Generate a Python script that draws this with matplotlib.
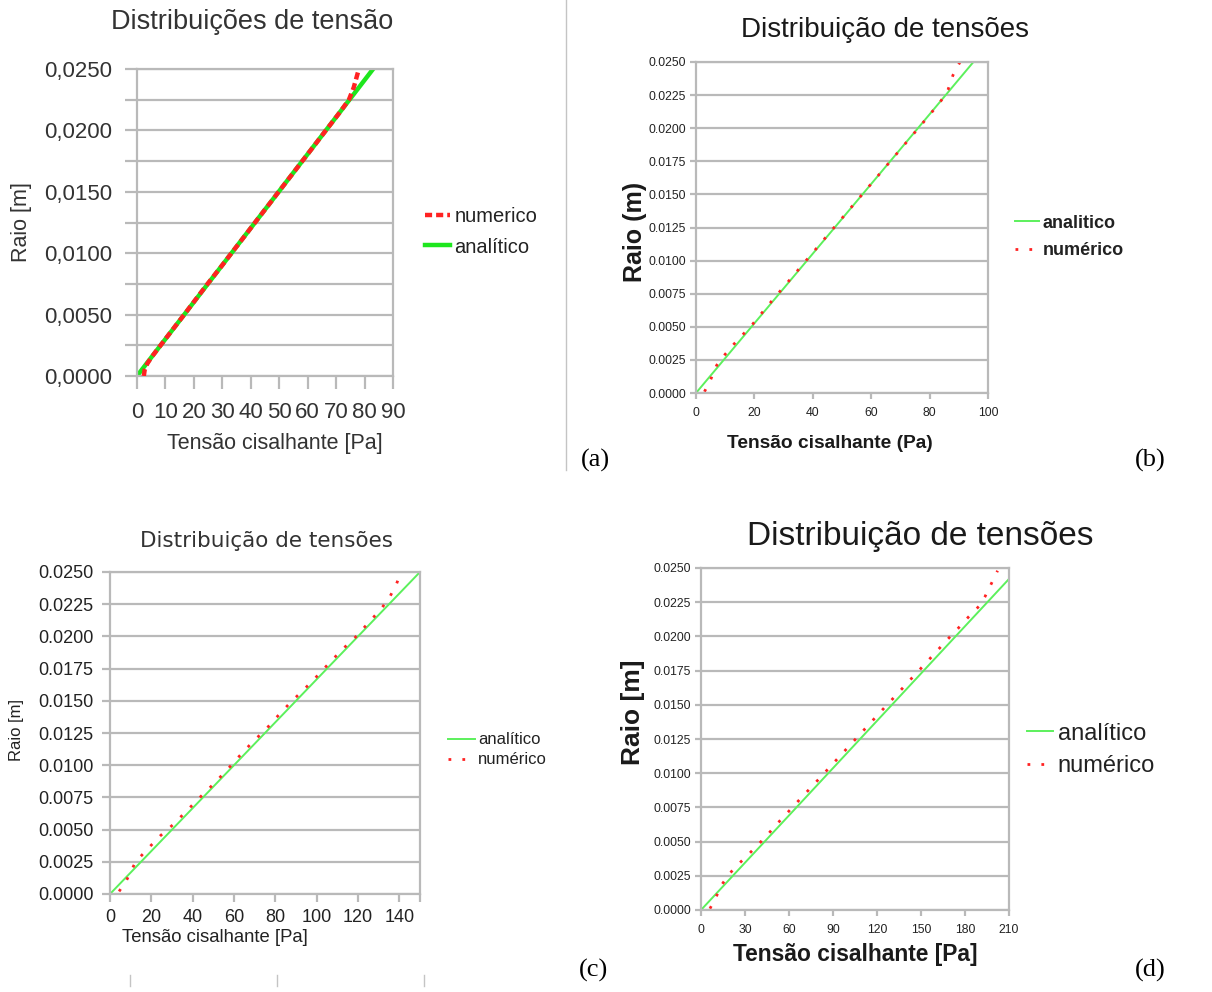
import matplotlib
matplotlib.use("Agg")
import matplotlib.pyplot as plt
from matplotlib.lines import Line2D
from matplotlib.ticker import FixedLocator, FuncFormatter, MultipleLocator

W, H = 1212, 992

# ------------------------------------------ #
# data: shear stress [Pa] against radius [m] #
# ------------------------------------------ #

# (a) Distribuições de tensão
r_ana_a = [0.0, 0.025]
tau_ana_a = [0.0, 83.0]
r_num_a = [0.0000, 0.0005, 0.0010, 0.0015, 0.0025, 0.0035, 0.0050, 0.0065,
           0.0075, 0.0090, 0.0100, 0.0115, 0.0125, 0.0140, 0.0150, 0.0165,
           0.0175, 0.0190, 0.0200, 0.0215, 0.0225, 0.0235, 0.0245, 0.0250]
tau_num_a = [2.4, 2.7, 3.6, 5.0, 8.3, 11.6, 16.6, 21.5,
             24.8, 29.9, 33.2, 38.2, 41.5, 46.5, 49.8, 54.8,
             58.1, 63.1, 66.4, 71.4, 74.5, 76.2, 77.4, 78.0]

# (b) Distribuição de tensões
r_ana_b = [0.0, 0.025]
tau_ana_b = [0.0, 95.0]
r_num_b = [0.0001, 0.0009, 0.0021, 0.0029, 0.0036, 0.0044, 0.0052, 0.0067,
           0.0080, 0.0093, 0.0106, 0.0119, 0.0132, 0.0145, 0.0158, 0.0171,
           0.0184, 0.0197, 0.0210, 0.0221, 0.0229, 0.0240, 0.0250]
tau_num_b = [2.9, 4.8, 7.1, 9.9, 12.6, 16.0, 19.4, 25.0,
             30.0, 35.0, 40.0, 45.0, 50.0, 55.0, 60.0, 65.0,
             70.0, 75.0, 80.0, 84.0, 86.3, 88.0, 90.4]

# (c) Distribuição de tensões
r_ana_c = [0.0, 0.025]
tau_ana_c = [0.0, 150.0]
r_num_c = [0.0002, 0.0011, 0.0025, 0.0036, 0.0045, 0.0054, 0.0066, 0.0075,
           0.0086, 0.0097, 0.0106, 0.0118, 0.0128, 0.0137, 0.0149, 0.0159,
           0.0168, 0.0180, 0.0190, 0.0199, 0.0209, 0.0222, 0.0231, 0.0241,
           0.0248]
tau_num_c = [4.4, 8.1, 12.4, 18.8, 24.2, 30.6, 38.0, 43.5,
             50.5, 57.0, 62.0, 69.0, 75.5, 80.5, 87.5, 94.0,
             99.5, 106.5, 112.5, 118.5, 124.2, 131.5, 135.5, 138.7,
             140.3]

# (d) Distribuição de tensões
r_ana_d = [0.0, 0.0242]
tau_ana_d = [0.0, 210.0]
r_num_d = [0.0001, 0.0009, 0.0019, 0.0027, 0.0033, 0.0040, 0.0048, 0.0054,
           0.0062, 0.0070, 0.0077, 0.0085, 0.0093, 0.0100, 0.0107, 0.0114,
           0.0121, 0.0128, 0.0135, 0.0142, 0.0149, 0.0157, 0.0164, 0.0171,
           0.0179, 0.0186, 0.0193, 0.0200, 0.0206, 0.0214, 0.0222, 0.0229,
           0.0238, 0.0248]
tau_num_d = [6.1, 10.0, 14.5, 19.8, 25.0, 31.8, 39.1, 44.6,
             51.0, 58.0, 64.0, 71.0, 78.0, 84.0, 90.0, 96.0,
             102.0, 108.0, 114.0, 120.0, 126.0, 133.0, 139.0, 145.0,
             152.0, 158.0, 164.0, 170.0, 175.4, 182.2, 189.5, 193.6,
             197.7, 202.2]

# ============ #
# plot helpers #
# ============ #
SANS = ["Liberation Sans", "DejaVu Sans"]
WIDE = ["DejaVu Sans"]
SERIF = ["Liberation Serif", "DejaVu Serif"]
GRID = "#b9b9b9"
GREEN_A = "#1ee61e"
GREEN = "#5cf05c"
RED = "#ff2222"
DOTS = (0, (1, 4))

fig = plt.figure(figsize=(W / 100, H / 100), dpi=100, facecolor="white")


def px_axes(left, top, right, bottom):
    return fig.add_axes([left / W, 1 - bottom / H, (right - left) / W,
                         (bottom - top) / H])


def px_text(x, y, s, **kw):
    fig.text(x / W, 1 - y / H, s, ha="center", va="center", **kw)


def frame(ax, xmax, ymax, fam, size, pad_x, pad_y, tick_len, color):
    ax.set_xlim(0, xmax)
    ax.set_ylim(0, ymax)
    ax.set_axisbelow(True)
    ax.yaxis.grid(True, which="both", color=GRID, lw=1.6)
    ax.xaxis.grid(False)
    for sp in ax.spines.values():
        sp.set_color(GRID)
        sp.set_linewidth(1.6)
    ax.tick_params(axis="both", which="both", direction="out", color=GRID,
                   width=1.6, length=tick_len, labelsize=size,
                   labelcolor=color, labelfontfamily=fam)
    ax.tick_params(axis="x", pad=pad_x)
    ax.tick_params(axis="y", pad=pad_y)


def legend(ax, x, y, fam, size, weight="normal", hl=1.5, sp=0.4):
    ax.legend(loc="center left", bbox_to_anchor=(x / W, 1 - y / H),
              bbox_transform=fig.transFigure, frameon=False, borderpad=0,
              borderaxespad=0, handlelength=hl, handletextpad=0.2,
              labelspacing=sp, prop=dict(family=fam, size=size, weight=weight),
              labelcolor="#222222")


# ----------- #
# panel (a)   #
# ----------- #
ax1 = px_axes(137, 69, 393, 376)
ax1.plot(tau_num_a, r_num_a, color=RED, lw=3.2, ls=(0, (1.6, 0.9)),
         label="numerico", zorder=3)
ax1.plot(tau_ana_a, r_ana_a, color=GREEN_A, lw=3.2, label="analítico",
         zorder=2)
frame(ax1, 90, 0.025, SANS, 16, 10, 9, 9, "#333333")
ax1.xaxis.set_major_locator(MultipleLocator(10))
ax1.yaxis.set_major_locator(MultipleLocator(0.005))
ax1.yaxis.set_minor_locator(MultipleLocator(0.0025))
ax1.yaxis.set_major_formatter(
    FuncFormatter(lambda v, p: f"{v:.4f}".replace(".", ",")))
legend(ax1, 425, 232, SANS, 14.5, hl=1.25, sp=0.55)
px_text(252, 22, "Distribuições de tensão", family=SANS, size=19.5,
        color="#333333")
px_text(275, 443, "Tensão cisalhante [Pa]", family=SANS, size=15.5,
        color="#333333")
px_text(22, 222, "Raio [m]", family=SANS, size=15.5, color="#333333",
        rotation=90)

# ----------- #
# panel (b)   #
# ----------- #
ax2 = px_axes(696, 62, 988, 393)
ax2.plot(tau_ana_b, r_ana_b, color=GREEN, lw=1.4, label="analitico")
ax2.plot(tau_num_b, r_num_b, color=RED, lw=2.0, ls=DOTS, label="numérico")
frame(ax2, 100, 0.025, SANS, 8.8, 6, 3, 4, "#222222")
ax2.xaxis.set_major_locator(MultipleLocator(20))
ax2.yaxis.set_major_locator(MultipleLocator(0.0025))
ax2.yaxis.set_major_formatter(FuncFormatter(lambda v, p: f"{v:.4f}"))
legend(ax2, 1015, 237, SANS, 13, weight="bold", hl=1.35, sp=0.6)
px_text(885, 30, "Distribuição de tensões", family=SANS, size=20,
        color="#1a1a1a")
px_text(830, 443, "Tensão cisalhante (Pa)", family=SANS, size=13.8,
        weight="bold", color="#1a1a1a")
px_text(635, 232, "Raio (m)", family=SANS, size=18, weight="bold",
        color="#1a1a1a", rotation=90)

# ----------- #
# panel (c)   #
# ----------- #
ax3 = px_axes(110, 572, 420, 894)
ax3.plot(tau_ana_c, r_ana_c, color=GREEN, lw=1.4, label="analítico")
ax3.plot(tau_num_c, r_num_c, color=RED, lw=2.0, ls=DOTS, label="numérico")
frame(ax3, 150, 0.025, SANS, 13, 5, 6, 6, "#222222")
ax3.xaxis.set_major_locator(FixedLocator(list(range(0, 141, 20))))
ax3.xaxis.set_minor_locator(FixedLocator([150]))
ax3.yaxis.set_major_locator(MultipleLocator(0.0025))
ax3.yaxis.set_major_formatter(FuncFormatter(lambda v, p: f"{v:.4f}"))
legend(ax3, 448, 750, SANS, 12, hl=1.6, sp=0.3)
px_text(267, 541, "Distribuição de tensões", family=WIDE, size=15.5,
        color="#333333")
px_text(215, 937, "Tensão cisalhante [Pa]", family=SANS, size=13.3,
        color="#222222")
px_text(16, 730, "Raio [m]", family=SANS, size=12, color="#222222",
        rotation=90)

# ----------- #
# panel (d)   #
# ----------- #
ax4 = px_axes(701, 568, 1009, 910)
ax4.plot(tau_ana_d, r_ana_d, color=GREEN, lw=1.4, label="analítico")
ax4.plot(tau_num_d, r_num_d, color=RED, lw=2.0, ls=DOTS, label="numérico")
frame(ax4, 210, 0.025, SANS, 8.8, 6, 3, 4, "#222222")
ax4.xaxis.set_major_locator(MultipleLocator(30))
ax4.yaxis.set_major_locator(MultipleLocator(0.0025))
ax4.yaxis.set_major_formatter(FuncFormatter(lambda v, p: f"{v:.4f}"))
legend(ax4, 1027, 750, SANS, 17, hl=1.1, sp=0.45)
px_text(920, 537, "Distribuição de tensões", family=SANS, size=24,
        color="#1a1a1a")
px_text(855, 955, "Tensão cisalhante [Pa]", family=SANS, size=16.4,
        weight="bold", color="#1a1a1a")
px_text(633, 712, "Raio [m]", family=SANS, size=19, weight="bold",
        color="#1a1a1a", rotation=90)

# ------------------------ #
# sub-figure letters, misc #
# ------------------------ #
for x, y, s in [(595, 460, "(a)"), (1150, 460, "(b)"),
                (594, 970, "(c)"), (1150, 970, "(d)")]:
    px_text(x, y, s, family=SERIF, size=19, color="black")

fig.add_artist(Line2D([566 / W, 566 / W], [1, 1 - 470 / H], color="#c4c4c4",
                      lw=1))
for x in (130, 277, 424):
    fig.add_artist(Line2D([x / W, x / W], [1 - 975 / H, 1 - 986 / H],
                          color="#c4c4c4", lw=1))

fig.savefig("out.png", dpi=100, facecolor="white")
